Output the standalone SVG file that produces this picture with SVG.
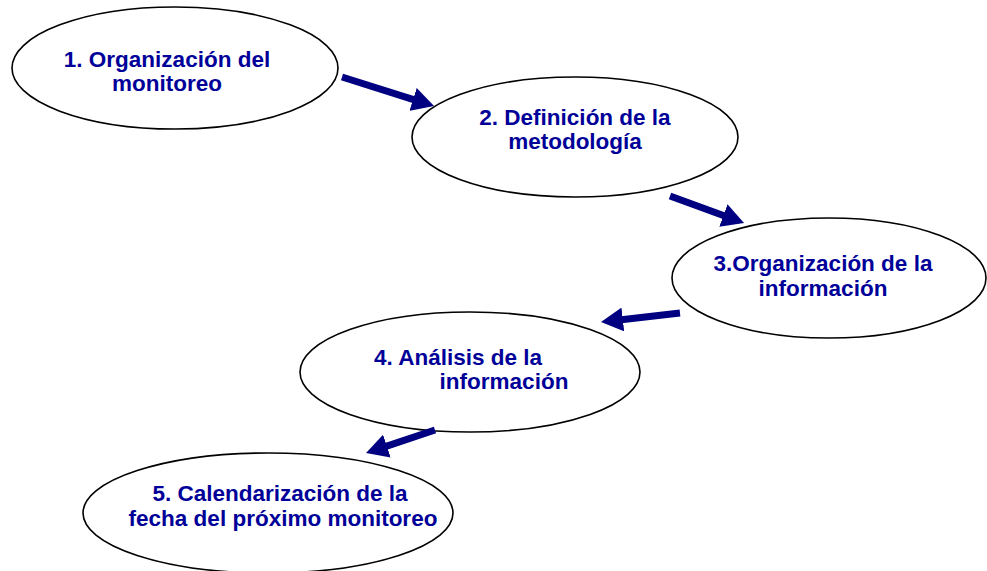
<svg xmlns="http://www.w3.org/2000/svg" width="987" height="571" viewBox="0 0 987 571">
<style>
.node ellipse{fill:#fff;stroke:#000;stroke-width:1.6}
.node text{font-family:"Liberation Sans",Arial,sans-serif;font-weight:bold;font-size:22.5px;fill:#000099;text-anchor:middle}
.conn line{stroke:#000080;stroke-width:7;fill:none}
</style>
<defs>
<marker id="ah" viewBox="0 0 22 24" refX="8" refY="12" markerWidth="22" markerHeight="24" markerUnits="userSpaceOnUse" orient="auto">
<path d="M0,0 L22,12 L0,24 z" fill="#000080"/>
</marker>
</defs>
<rect width="987" height="571" fill="#fff"/>
<g id="n1" class="node">
<ellipse cx="175" cy="68" rx="163" ry="61"/>
<text x="167" y="67">1. Organización del</text>
<text x="167" y="91">monitoreo</text>
</g>
<g id="n2" class="node">
<ellipse cx="575" cy="137" rx="163" ry="60"/>
<text x="575" y="125">2. Definición de la</text>
<text x="575" y="149">metodología</text>
</g>
<g id="n3" class="node">
<ellipse cx="829" cy="278" rx="157" ry="60"/>
<text x="823" y="271">3.Organización de la</text>
<text x="823" y="296">información</text>
</g>
<g id="n4" class="node">
<ellipse cx="470" cy="372" rx="170" ry="60"/>
<text x="458" y="365">4. Análisis de la</text>
<text x="504" y="389">información</text>
</g>
<g id="n5" class="node">
<ellipse cx="268" cy="513" rx="185" ry="60"/>
<text x="280" y="501">5. Calendarización de la</text>
<text x="283" y="526">fecha del próximo monitoreo</text>
</g>
<g id="connectors" class="conn">
<line x1="342" y1="77" x2="420.7" y2="101.8" marker-end="url(#ah)"/>
<line x1="670" y1="196" x2="730.9" y2="218.2" marker-end="url(#ah)"/>
<line x1="680" y1="313" x2="614.9" y2="320.4" marker-end="url(#ah)"/>
<line x1="435" y1="430" x2="379.3" y2="448.6" marker-end="url(#ah)"/>
</g>
</svg>
